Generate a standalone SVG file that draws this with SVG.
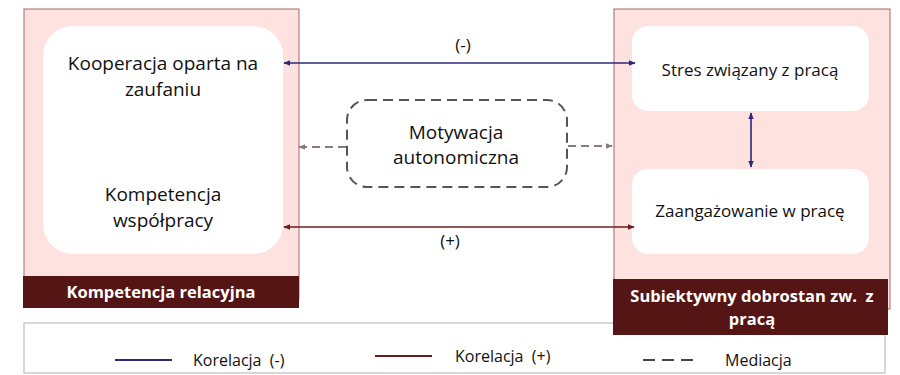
<svg xmlns="http://www.w3.org/2000/svg" width="900" height="375" viewBox="0 0 900 375">
  <defs>
    <style>
      .panel { fill: #fde2e0; stroke: #a86666; stroke-width: 1; }
      .band { fill: #551515; }
      .card { fill: #ffffff; }
      .lbl { font-family: "Open Sans", "Liberation Sans", Arial, sans-serif; font-size: 19px; fill: #111; text-anchor: middle; }
      .lbl.sm { font-size: 17px; }
      .bandlbl { font-family: "Open Sans", "Liberation Sans", Arial, sans-serif; font-size: 16.5px; font-weight: bold; fill: #ffffff; text-anchor: middle; }
      .sign { font-family: "Open Sans", "Liberation Sans", Arial, sans-serif; font-size: 17px; fill: #111; text-anchor: middle; }
      .leg { font-family: "Open Sans", "Liberation Sans", Arial, sans-serif; font-size: 16px; fill: #111; }
      .neg { stroke: #2b2a78; stroke-width: 1.6; fill: none; }
      .pos { stroke: #6e1c1c; stroke-width: 1.6; fill: none; }
      .med { stroke: #8a7a7a; stroke-width: 2; stroke-dasharray: 8 5; fill: none; }
    </style>
    <marker id="ahNeg" viewBox="0 0 10 10" refX="9" refY="5" markerWidth="7" markerHeight="7" orient="auto-start-reverse" markerUnits="userSpaceOnUse">
      <path d="M0,1 L10,5 L0,9 z" fill="#2b2a78"/>
    </marker>
    <marker id="ahPos" viewBox="0 0 10 10" refX="9" refY="5" markerWidth="7" markerHeight="7" orient="auto-start-reverse" markerUnits="userSpaceOnUse">
      <path d="M0,1 L10,5 L0,9 z" fill="#6e1c1c"/>
    </marker>
    <marker id="ahMed" viewBox="0 0 10 10" refX="9" refY="5" markerWidth="7" markerHeight="7" orient="auto" markerUnits="userSpaceOnUse">
      <path d="M0,1 L10,5 L0,9 z" fill="#8a7a7a"/>
    </marker>
  </defs>

  <rect width="900" height="375" fill="#ffffff"/>

  <!-- Legend (drawn first so the right panel's band overlaps its frame) -->
  <g id="legenda">
    <rect x="24" y="323" width="861" height="50" fill="#ffffff" stroke="#b0b0b0" stroke-width="1"/>
    <line x1="115" y1="360" x2="172" y2="360" stroke="#2b2a78" stroke-width="2"/>
    <text class="leg" x="193" y="366" xml:space="preserve">Korelacja  (-)</text>
    <line x1="375" y1="356" x2="432" y2="356" stroke="#6e1c1c" stroke-width="2"/>
    <text class="leg" x="455" y="362" xml:space="preserve">Korelacja  (+)</text>
    <line x1="643" y1="360" x2="700" y2="360" stroke="#444444" stroke-width="2" stroke-dasharray="12 7"/>
    <text class="leg" x="725" y="366">Mediacja</text>
  </g>

  <!-- Left panel: relational competence -->
  <g id="kompetencja-relacyjna">
    <rect class="panel" x="24" y="9" width="275" height="290"/>
    <rect class="card" x="43" y="26" width="240" height="228" rx="30"/>
    <text class="lbl" x="163" y="70">Kooperacja oparta na</text>
    <text class="lbl" x="163" y="96">zaufaniu</text>
    <text class="lbl" x="163" y="201">Kompetencja</text>
    <text class="lbl" x="163" y="227">współpracy</text>
    <rect class="band" x="23" y="276" width="276" height="32"/>
    <text class="bandlbl" x="161" y="298">Kompetencja relacyjna</text>
  </g>

  <!-- Right panel: subjective well-being at work -->
  <g id="dobrostan">
    <rect class="panel" x="614" y="9" width="276" height="300"/>
    <g id="stres">
      <rect class="card" x="632" y="26" width="237" height="85" rx="16"/>
      <text class="lbl sm" x="750" y="76">Stres związany z pracą</text>
    </g>
    <g id="zaangazowanie">
      <rect class="card" x="632" y="169" width="237" height="85" rx="16"/>
      <text class="lbl sm" x="750" y="217">Zaangażowanie w pracę</text>
    </g>
    <rect class="band" x="613" y="279" width="275" height="56"/>
    <text class="bandlbl" x="752" y="302" xml:space="preserve">Subiektywny dobrostan zw.  z</text>
    <text class="bandlbl" x="752" y="325">pracą</text>
  </g>

  <!-- Mediator -->
  <g id="motywacja">
    <rect x="347" y="100" width="220" height="87" rx="20" fill="#ffffff" stroke="#555555" stroke-width="2" stroke-dasharray="10 6"/>
    <text class="lbl" x="456" y="139">Motywacja</text>
    <text class="lbl" x="456" y="164">autonomiczna</text>
  </g>

  <!-- Connectors -->
  <g id="connectors">
    <line class="neg" x1="284" y1="63" x2="635" y2="63" marker-start="url(#ahNeg)" marker-end="url(#ahNeg)"/>
    <text class="sign" x="463" y="51">(-)</text>
    <line class="pos" x1="284" y1="227" x2="634" y2="227" marker-start="url(#ahPos)" marker-end="url(#ahPos)"/>
    <text class="sign" x="450" y="247">(+)</text>
    <line class="neg" x1="751" y1="113" x2="751" y2="167" marker-start="url(#ahNeg)" marker-end="url(#ahNeg)"/>
    <line class="med" x1="346" y1="147" x2="299" y2="147" marker-end="url(#ahMed)"/>
    <line class="med" x1="568" y1="146" x2="612" y2="146" marker-end="url(#ahMed)"/>
  </g>
</svg>
